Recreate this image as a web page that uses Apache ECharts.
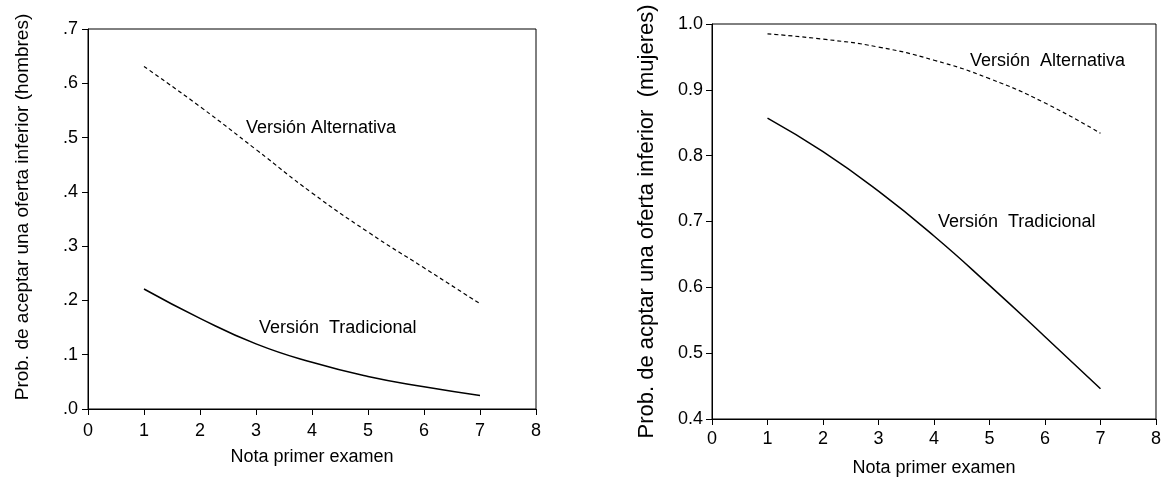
<!DOCTYPE html>
<html>
<head>
<meta charset="utf-8">
<script src="https://cdn.jsdelivr.net/npm/echarts@6/dist/echarts.min.js"></script>
<style>
  html, body { margin: 0; padding: 0; background: #fff; }
  #chart { width: 1164px; height: 482px; }
</style>
</head>
<body>
<div id="chart"></div>
<script>
// nota primer examen
var notas = [1, 2, 3, 4, 5, 6, 7];

// hombres
var hombresAlternativa = [0.631, 0.557, 0.478, 0.398, 0.326, 0.260, 0.194];
var hombresTradicional = [0.221, 0.167, 0.120, 0.086, 0.060, 0.041, 0.025];

// mujeres
var mujeresAlternativa = [0.985, 0.977, 0.965, 0.945, 0.917, 0.880, 0.834];
var mujeresTradicional = [0.857, 0.806, 0.746, 0.678, 0.603, 0.525, 0.446];

function pares(ys) {
    return notas.map(function (x, i) { return [x, ys[i]]; });
}

var fuente = 'Liberation Sans, Arial, sans-serif';
var negro = '#000';

function ejeX(idx, margen, gap) {
    return {
        type: 'value', gridIndex: idx, min: 0, max: 8, interval: 1,
        name: 'Nota primer examen', nameLocation: 'middle', nameGap: gap,
        nameTextStyle: { color: negro, fontSize: 18, fontFamily: fuente },
        axisLine: { lineStyle: { color: negro } },
        axisTick: { show: true, length: 6, lineStyle: { color: negro } },
        axisLabel: { color: negro, fontSize: 18, fontFamily: fuente, margin: margen },
        splitLine: { show: false }
    };
}

var lineaTrad = { color: negro, width: 1.5, type: 'solid' };
var lineaAlt = { color: negro, width: 1.2, type: [4, 3] };

function serie(idx, ys, estilo) {
    return {
        type: 'line', xAxisIndex: idx, yAxisIndex: idx,
        data: pares(ys), smooth: true, showSymbol: false,
        lineStyle: estilo, silent: true
    };
}

echarts.init(document.getElementById('chart')).setOption({
    backgroundColor: '#fff',
    animation: false,
    grid: [
        { left: 88, top: 29, width: 448, height: 380, show: true, borderColor: negro, borderWidth: 1 },
        { left: 712, top: 24, width: 446, height: 398, show: true, borderColor: negro, borderWidth: 1 }
    ],
    xAxis: [ejeX(0, 13, 39), ejeX(1, 11, 40)],
    yAxis: [
        {
            type: 'value', gridIndex: 0, min: 0, max: 0.7, interval: 0.1,
            name: 'Prob. de aceptar una oferta inferior (hombres)',
            nameLocation: 'middle', nameGap: 56,
            nameTextStyle: { color: negro, fontSize: 19, fontFamily: fuente, padding: [0, 0, 0, 24] },
            axisLine: { show: true, lineStyle: { color: negro } },
            axisTick: { show: true, length: 6, lineStyle: { color: negro } },
            axisLabel: {
                color: negro, fontSize: 18, fontFamily: fuente, margin: 10,
                formatter: function (v) { return '.' + Math.round(v * 10); }
            },
            splitLine: { show: false }
        },
        {
            type: 'value', gridIndex: 1, min: 0.4, max: 1.0, interval: 0.1,
            name: 'Prob. de acptar una oferta inferior  (mujeres)',
            nameLocation: 'middle', nameGap: 54,
            nameTextStyle: { color: negro, fontSize: 22, fontFamily: fuente },
            axisLine: { show: true, lineStyle: { color: negro } },
            axisTick: { show: true, length: 6, lineStyle: { color: negro } },
            axisLabel: {
                color: negro, fontSize: 18, fontFamily: fuente, margin: 9,
                formatter: function (v) { return v.toFixed(1); }
            },
            splitLine: { show: false }
        }
    ],
    series: [
        serie(0, hombresAlternativa, lineaAlt),
        serie(0, hombresTradicional, lineaTrad),
        serie(1, mujeresAlternativa, lineaAlt),
        serie(1, mujeresTradicional, lineaTrad)
    ],
    graphic: [
        { type: 'text', left: 246, top: 119, style: { text: 'Versión Alternativa', fill: negro, font: '18px ' + fuente } },
        { type: 'text', left: 259, top: 319, style: { text: 'Versión  Tradicional', fill: negro, font: '18px ' + fuente } },
        { type: 'text', left: 970, top: 52, style: { text: 'Versión  Alternativa', fill: negro, font: '18px ' + fuente } },
        { type: 'text', left: 938, top: 213, style: { text: 'Versión  Tradicional', fill: negro, font: '18px ' + fuente } }
    ]
});
</script>
</body>
</html>
